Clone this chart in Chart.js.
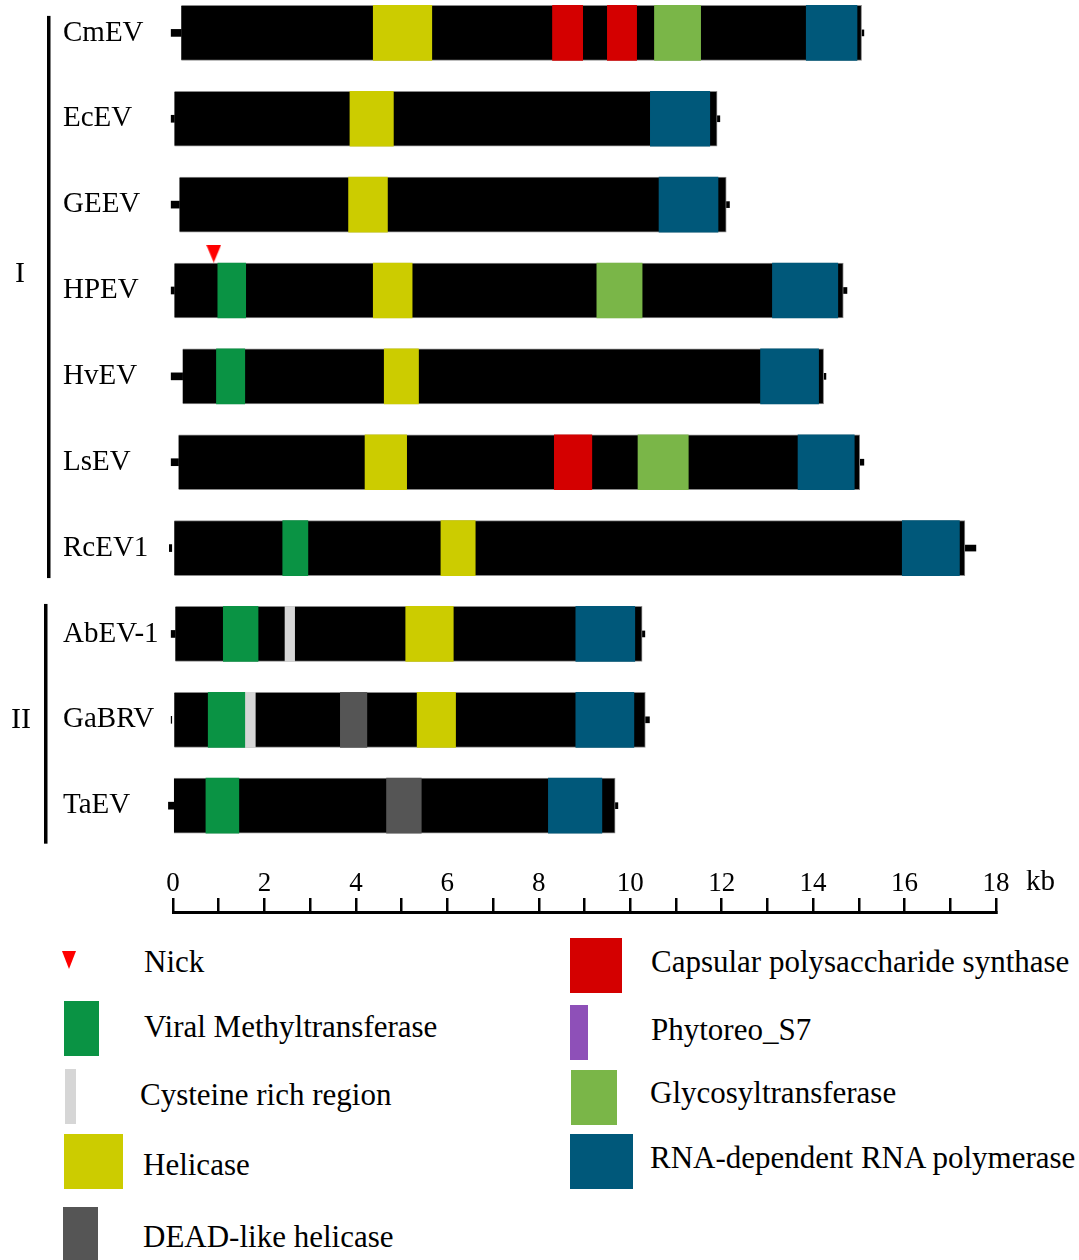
<!DOCTYPE html>
<html>
<head>
<meta charset="utf-8">
<script src="https://cdn.jsdelivr.net/npm/chart.js@4.4.1/dist/chart.umd.min.js"></script>
<style>
html,body{margin:0;padding:0;background:#fff;}
#wrap{position:relative;width:1079px;height:1260px;overflow:hidden;font-family:"Liberation Serif","Times New Roman",serif;background:#fff;}
#c{position:absolute;left:0;top:0;}
.sw{position:absolute;}
.lt{position:absolute;font-size:31px;line-height:31px;white-space:nowrap;color:#000;}
</style>
</head>
<body>
<div id="wrap"><canvas id="c" width="1079" height="930"></canvas></div>
<script>
// ---------------- DATA ----------------
const genomes = ['CmEV','EcEV','GEEV','HPEV','HvEV','LsEV','RcEV1','AbEV-1','GaBRV','TaEV'];
const groupI = ['CmEV','EcEV','GEEV','HPEV','HvEV','LsEV','RcEV1'];
const groupII = ['AbEV-1','GaBRV','TaEV'];

// genome backbone (kb)
const genomeStart   = [0.18, 0.03, 0.14, 0.03, 0.21, 0.12, 0.00, 0.05, 0.00, 0.02];
const genomeEnd     = [15.06, 11.90, 12.10, 14.66, 14.23, 15.02, 17.32, 10.26, 10.33, 9.67];
const leftStubStart = [-0.04, -0.04, -0.04, -0.04, -0.04, -0.04, -0.08, -0.04, -0.04, -0.10];
const rightStubEnd  = [15.11, 11.96, 12.17, 14.74, 14.28, 15.11, 17.56, 10.32, 10.42, 9.73];

// domains: [genome, start kb, end kb]
const methyltransferase = [['HPEV',0.98,1.59],['HvEV',0.95,1.57],['RcEV1',2.40,2.95],['AbEV-1',1.10,1.86],['GaBRV',0.77,1.57],['TaEV',0.72,1.44]];
const cysteineRich = [['AbEV-1',2.45,2.66],['GaBRV',1.57,1.80]];
const helicase = [['CmEV',4.38,5.66],['EcEV',3.87,4.82],['GEEV',3.84,4.69],['HPEV',4.38,5.23],['HvEV',4.62,5.37],['LsEV',4.20,5.11],['RcEV1',5.86,6.61],['AbEV-1',5.09,6.13],['GaBRV',5.34,6.18]];
const deadHelicase = [['GaBRV',3.66,4.24],['TaEV',4.67,5.43]];
const capsular = [['CmEV',8.30,8.96],['CmEV',9.50,10.14],['LsEV',8.34,9.16]];
const phytoreoS7 = [];
const glycosyltransferase = [['CmEV',10.53,11.54],['HPEV',9.27,10.26],['LsEV',10.17,11.27]];
const rdrp = [['CmEV',13.85,14.96],['EcEV',10.44,11.74],['GEEV',10.63,11.92],['HPEV',13.11,14.54],['HvEV',12.85,14.12],['LsEV',13.67,14.90],['RcEV1',15.95,17.20],['AbEV-1',8.81,10.10],['GaBRV',8.81,10.08],['TaEV',8.21,9.38]];
const nicks = [['HPEV',0.89]];

const xTickValues = [0,1,2,3,4,5,6,7,8,9,10,11,12,13,14,15,16,17,18];
const axisUnit = 'kb';

// ---------------- STYLE ----------------
const FONT = '"Liberation Serif","Times New Roman",serif';
const domainDefs = [
  {name:'Viral Methyltransferase', data: methyltransferase, color:'#0a9344'},
  {name:'Cysteine rich region', data: cysteineRich, color:'#d6d6d6'},
  {name:'Helicase', data: helicase, color:'#cccc00'},
  {name:'DEAD-like helicase', data: deadHelicase, color:'#555555'},
  {name:'Capsular polysaccharide synthase', data: capsular, color:'#d40000'},
  {name:'Phytoreo_S7', data: phytoreoS7, color:'#8e50b8'},
  {name:'Glycosyltransferase', data: glycosyltransferase, color:'#7ab648'},
  {name:'RNA-dependent RNA polymerase', data: rdrp, color:'#00587a'}
];
const NICK_COLOR = '#ff0000';

// layout
const rowPitch = 86.0, firstRowPx = 31.5, axisPx = 912;
const yMin = -firstRowPx / rowPitch;
const yMax = yMin + axisPx / rowPitch;
const BAR_H = 55;

// nick marker image
const nickImg = document.createElement('canvas');
nickImg.width = 15; nickImg.height = 18;
(function(){const g = nickImg.getContext('2d'); g.fillStyle = NICK_COLOR; g.beginPath(); g.moveTo(0,0); g.lineTo(15,0); g.lineTo(7.5,18); g.closePath(); g.fill();})();

const datasets = [];
domainDefs.forEach(d => {
  datasets.push({
    type:'bar', label:d.name, indexAxis:'y', grouped:false, order:2, clip:false,
    data: d.data.map(r => ({x:[r[1], r[2]], y: genomes.indexOf(r[0])})),
    backgroundColor: d.color, borderWidth:0, barThickness: BAR_H
  });
});
datasets.push({
  type:'bar', label:'genome', indexAxis:'y', grouped:false, order:10, clip:false,
  data: genomes.map((g,i) => ({x:[genomeStart[i], genomeEnd[i]], y:i})),
  backgroundColor:'#000', borderWidth:1, borderColor:'#8a8a8a', barThickness: BAR_H
});
datasets.push({
  type:'bar', label:'5prime', indexAxis:'y', grouped:false, order:11, clip:false,
  data: genomes.map((g,i) => ({x:[leftStubStart[i], genomeStart[i]], y:i})),
  backgroundColor:'#000', borderWidth:0, barThickness: 7
});
datasets.push({
  type:'bar', label:'3prime', indexAxis:'y', grouped:false, order:11, clip:false,
  data: genomes.map((g,i) => ({x:[genomeEnd[i], rightStubEnd[i]], y:i})),
  backgroundColor:'#000', borderWidth:0, barThickness: 6
});
datasets.push({
  type:'scatter', label:'Nick', order:0, clip:false,
  data: nicks.map(n => ({x:n[1], y: genomes.indexOf(n[0]) - 0.43})),
  pointStyle: nickImg, pointRadius: 9, showLine:false
});

const decorPlugin = {
  id:'decor',
  afterDraw(chart){
    const ctx = chart.ctx, ys = chart.scales.y, xs = chart.scales.x;
    ctx.save();
    ctx.fillStyle = '#000';
    const i0 = genomes.indexOf(groupI[0]), i1 = genomes.indexOf(groupI[groupI.length-1]);
    const j0 = genomes.indexOf(groupII[0]), j1 = genomes.indexOf(groupII[groupII.length-1]);
    const aTop = ys.getPixelForValue(i0) - 17, aBot = ys.getPixelForValue(i1) + 30;
    const bTop = ys.getPixelForValue(j0) - 30, bBot = ys.getPixelForValue(j1) + 38;
    ctx.fillRect(47, aTop, 3.5, aBot - aTop);
    ctx.fillRect(44, bTop, 3.5, bBot - bTop);
    ctx.font = '30px ' + FONT;
    ctx.textAlign = 'center'; ctx.textBaseline = 'middle';
    ctx.fillText('I', 20, ys.getPixelForValue(3) - 16);
    ctx.fillText('II', 21, ys.getPixelForValue(8));
    ctx.font = '29px ' + FONT;
    ctx.textAlign = 'left';
    ctx.fillText(axisUnit, xs.getPixelForValue(18) + 30, 882);
    ctx.restore();
  }
};

new Chart(document.getElementById('c'), {
  type:'bar',
  data:{ datasets },
  options:{
    responsive:false, animation:false, devicePixelRatio:1,
    layout:{ autoPadding:false, padding:{ left:63, right:83, top:0, bottom:18 } },
    plugins:{ legend:{display:false}, tooltip:{enabled:false} },
    scales:{
      x:{
        type:'linear', min:0, max:18, offset:false, position:'bottom',
        afterBuildTicks: s => { s.ticks = xTickValues.map(v => ({value:v})); },
        afterFit: s => { s.height = 0; },
        ticks:{ autoSkip:false, maxRotation:0, mirror:true, padding:12, color:'#000',
          font:{ family:FONT, size:27 },
          callback: v => (v % 2 === 0 ? String(v) : '') },
        grid:{ offset:false, drawOnChartArea:false, drawTicks:true, tickLength:-14, lineWidth:2.5, color:'#000' },
        border:{ display:true, width:3, color:'#000' }
      },
      y:{
        type:'linear', reverse:true, min:yMin, max:yMax, offset:false, position:'left',
        afterBuildTicks: s => { s.ticks = genomes.map((g,i) => ({value:i})); },
        afterFit: s => { s.width = 110; },
        ticks:{ autoSkip:false, crossAlign:'far', padding:0, color:'#000',
          font:{ family:FONT, size:29, lineHeight:0.1 },
          callback: v => genomes[v] },
        grid:{ display:false, offset:false },
        border:{ display:false }
      }
    }
  },
  plugins:[decorPlugin]
});

// ---------------- LEGEND (HTML) ----------------
const legendLayout = [
  // name, swatch left, top, width, height, text left, text baseline
  ['Nick', 62, 951, 15, 18, 144, 972],
  ['Viral Methyltransferase', 64, 1001, 35, 55, 144, 1037],
  ['Cysteine rich region', 65, 1069, 11, 55, 140, 1105],
  ['Helicase', 64, 1134, 59, 55, 143, 1175],
  ['DEAD-like helicase', 63, 1207, 35, 55, 143, 1247],
  ['Capsular polysaccharide synthase', 570, 938, 52, 55, 651, 972],
  ['Phytoreo_S7', 570, 1005, 18, 55, 651, 1040],
  ['Glycosyltransferase', 571, 1070, 46, 55, 650, 1103],
  ['RNA-dependent RNA polymerase', 570, 1134, 63, 55, 650, 1168]
];
const wrap = document.getElementById('wrap');
legendLayout.forEach(([name, sl, st, sw, sh, tl, bl]) => {
  const s = document.createElement('div');
  s.className = 'sw';
  s.style.left = sl + 'px'; s.style.top = st + 'px';
  if (name === 'Nick') {
    s.style.width = '0'; s.style.height = '0';
    s.style.borderLeft = (sw/2) + 'px solid transparent';
    s.style.borderRight = (sw/2) + 'px solid transparent';
    s.style.borderTop = sh + 'px solid ' + NICK_COLOR;
  } else {
    const d = domainDefs.find(x => x.name === name);
    s.style.width = sw + 'px'; s.style.height = sh + 'px';
    s.style.background = d.color;
  }
  wrap.appendChild(s);
  const t = document.createElement('div');
  t.className = 'lt';
  t.textContent = name;
  t.style.left = tl + 'px'; t.style.top = (bl - 26) + 'px';
  wrap.appendChild(t);
});
</script>
</body>
</html>
